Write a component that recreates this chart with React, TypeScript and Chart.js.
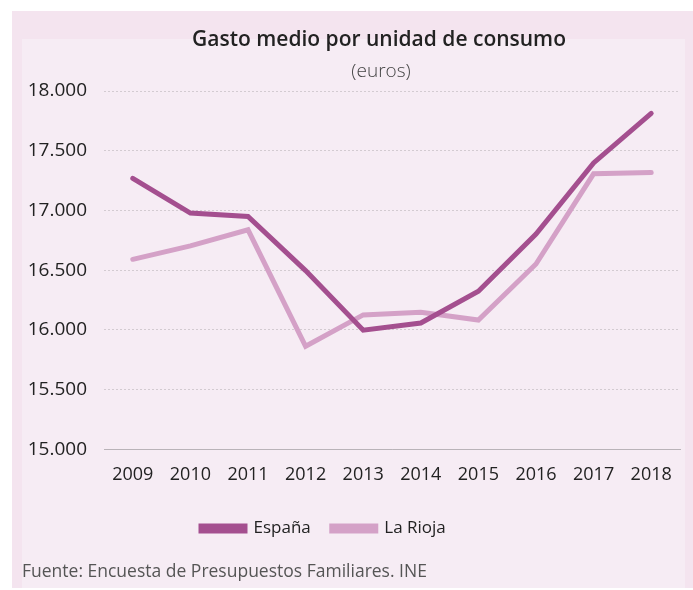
import React, { useEffect, useRef } from "react";
import { Chart, registerables } from "chart.js";

Chart.register(...registerables);

const years = ["2009", "2010", "2011", "2012", "2013", "2014", "2015", "2016", "2017", "2018"];
const espana = [17269, 16978, 16950, 16497, 15998, 16058, 16324, 16802, 17398, 17812];
const rioja = [16591, 16703, 16838, 15863, 16126, 16147, 16083, 16552, 17307, 17318];
const titleText = "Gasto medio por unidad de consumo";
const subtitleText = "(euros)";
const sourceText = "Fuente: Encuesta de Presupuestos Familiares. INE";

const FONT = "'Open Sans', sans-serif";

const legendShift = {
  id: "legendShift",
  afterLayout(chart: any) {
    const lg = chart.legend;
    if (!lg) return;
    const w = lg.right - lg.left;
    lg.left = 180;
    lg.right = 180 + w;
  },
};

export default function App() {
  const ref = useRef<HTMLCanvasElement | null>(null);
  useEffect(() => {
    if (!ref.current) return;
    const chart = new Chart(ref.current, {
      type: "line",
      data: {
        labels: years,
        datasets: [
          {
            label: "España",
            data: espana,
            borderColor: "#a44f8f",
            backgroundColor: "#a44f8f",
            borderWidth: 5,
            pointRadius: 0,
            tension: 0,
            borderCapStyle: "round",
          },
          {
            label: "La Rioja",
            data: rioja,
            borderColor: "#d4a1c7",
            backgroundColor: "#d4a1c7",
            borderWidth: 5,
            pointRadius: 0,
            tension: 0,
            borderCapStyle: "round",
          },
        ],
      },
      plugins: [legendShift],
      options: {
        responsive: false,
        animation: false,
        layout: { padding: { left: 22, right: 13, top: 91, bottom: 43 } },
        plugins: {
          title: { display: false },
          legend: {
            position: "bottom",
            align: "start",
            labels: {
              boxWidth: 44,
              boxHeight: 5,
              color: "#222",
              font: { family: FONT, size: 17 },
              padding: 21,
            },
          },
          tooltip: { enabled: false },
        },
        scales: {
          x: {
            offset: true,
            afterFit: (s: any) => { s.height -= 2; },
            grid: { display: false, drawTicks: false },
            border: { display: true, color: "#b9b3b8", width: 1 },
            ticks: { color: "#222", font: { family: FONT, size: 18 }, padding: 15 },
          },
          y: {
            min: 15000,
            max: 18000,
            afterFit: (s: any) => { s.width = 82; },
            grid: {
              drawTicks: false,
              color: "#d3cbd1",
              lineWidth: 1,
            },
            border: { display: false, dash: [2, 2] },
            ticks: {
              stepSize: 500,
              padding: 17,
              color: "#222",
              font: { family: FONT, size: 19 },
              callback: (v: any) => Number(v).toLocaleString("de-DE", { minimumFractionDigits: 0 }).replace(",", "."),
            },
          },
        },
      },
    });
    return () => chart.destroy();
  }, []);

  return (
    <div style={{ position: "absolute", left: 0, top: 0, width: 693, height: 590, background: "#fff", overflow: "hidden" }}>
      <div style={{ position: "absolute", left: 12, top: 11, width: 681, height: 577, background: "#f4e4ef" }} />
      <div style={{ position: "absolute", left: 22, top: 39, width: 663, height: 549, background: "#f6ecf4" }} />
      <canvas ref={ref} width={693} height={590} style={{ position: "absolute", left: 0, top: 0 }} />
      <div style={{ position: "absolute", left: 179, width: 400, top: 24, textAlign: "center", fontFamily: FONT, fontSize: 21, fontWeight: 600, color: "#222", whiteSpace: "nowrap", lineHeight: "28px" }}>
        {titleText}
      </div>
      <div style={{ position: "absolute", left: 281, width: 200, top: 57, textAlign: "center", fontFamily: FONT, fontSize: 19, fontWeight: 300, color: "#444", whiteSpace: "nowrap", lineHeight: "26px" }}>
        {subtitleText}
      </div>
      <div style={{ position: "absolute", left: 22, top: 558, fontFamily: FONT, fontSize: 17.5, color: "#555", whiteSpace: "nowrap", lineHeight: "24px" }}>
        {sourceText}
      </div>
    </div>
  );
}
